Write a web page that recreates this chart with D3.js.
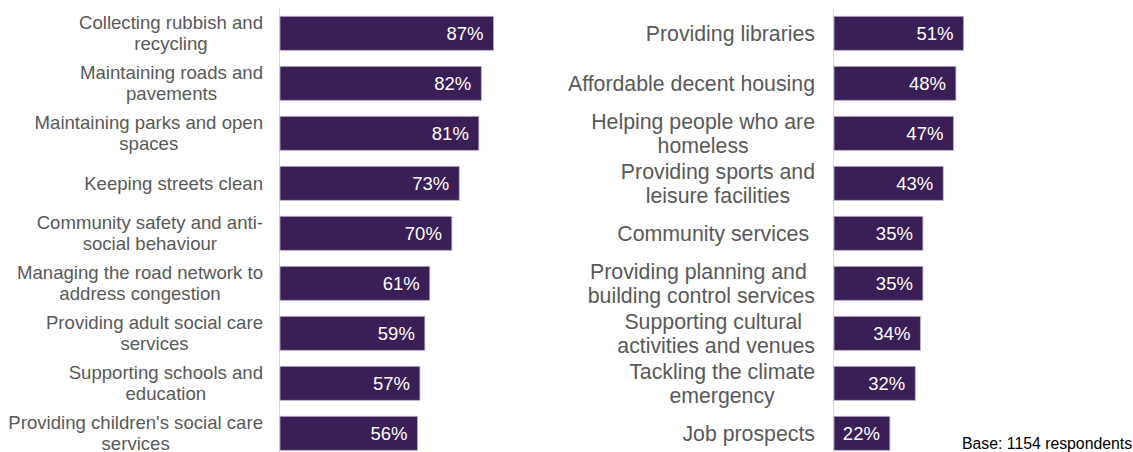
<!DOCTYPE html>
<html>
<head>
<meta charset="utf-8">
<script src="https://cdn.jsdelivr.net/npm/d3@7"></script>
<style>
  html, body { margin: 0; padding: 0; background: #fff; }
  svg { display: block; font-family: "Liberation Sans", Arial, sans-serif; }
  text { white-space: pre; }
</style>
</head>
<body>
<svg id="chart" width="1133" height="452"></svg>
<script>
// ---- data ----
const leftCategories = [
  "Collecting rubbish and|recycling",
  "Maintaining roads and|pavements",
  "Maintaining parks and open|spaces",
  "Keeping streets clean",
  "Community safety and anti-|social behaviour",
  "Managing the road network to|address congestion",
  "Providing adult social care|services",
  "Supporting schools and|education",
  "Providing children's social care|services"
];
const leftValues = [87, 82, 81, 73, 70, 61, 59, 57, 56];

const rightCategories = [
  "Providing libraries",
  "Affordable decent housing",
  "Helping people who are|homeless",
  "Providing sports and|leisure facilities",
  "Community services ",
  "Providing planning and |building control services",
  "Supporting cultural |activities and venues",
  "Tackling the climate|emergency",
  "Job prospects"
];
const rightValues = [51, 48, 47, 43, 35, 35, 34, 32, 22];

const baseNote = "Base: 1154 respondents";

// ---- drawing ----
const svg = d3.select("#chart");
const barFill = "#3a1e56";
const barStroke = "#bcaecb";
const labelColor = "#595959";

function panel(cfg) {
  const g = svg.append("g");
  const y = d3.scaleBand()
    .domain(cfg.categories.map((d, i) => i))
    .range([8.3, 458.3])
    .paddingInner(0.32)
    .paddingOuter(0.16);
  const x = d3.scaleLinear().domain([0, 100]).range([cfg.x0, cfg.x0 + cfg.width100]);

  // axis line
  g.append("line")
    .attr("x1", cfg.x0 - 0.5).attr("x2", cfg.x0 - 0.5)
    .attr("y1", y.range()[0]).attr("y2", y.range()[1])
    .attr("stroke", "#d9d9d9").attr("stroke-width", 1);

  const rows = cfg.categories.map((c, i) => ({ lines: c.split("|"), v: cfg.values[i], i }));

  // bars
  g.selectAll("rect.bar").data(rows).join("rect")
    .attr("class", "bar")
    .attr("x", x(0))
    .attr("y", d => y(d.i))
    .attr("width", d => x(d.v) - x(0))
    .attr("height", y.bandwidth())
    .attr("fill", barFill)
    .attr("stroke", barStroke)
    .attr("stroke-width", 0.8);

  // value labels
  g.selectAll("text.val").data(rows).join("text")
    .attr("class", "val")
    .attr("x", d => x(d.v) - 10)
    .attr("y", d => y(d.i) + y.bandwidth() / 2)
    .attr("dy", "0.36em")
    .attr("text-anchor", "end")
    .attr("fill", "#ffffff")
    .style("font-size", "18.5px")
    .text(d => d.v + "%");

  // category labels: block right-aligned, lines centred within block
  rows.forEach(r => {
    const n = r.lines.length;
    const cy = y(r.i) + y.bandwidth() / 2;
    const texts = r.lines.map((line, k) =>
      g.append("text")
        .attr("xml:space", "preserve")
        .attr("y", cy + (k - (n - 1) / 2) * cfg.lineHeight)
        .attr("dy", "0.35em")
        .attr("text-anchor", "middle")
        .attr("fill", labelColor)
        .style("font-size", cfg.fontSize + "px")
        .text(line)
    );
    const maxW = d3.max(texts, t => t.node().getComputedTextLength());
    texts.forEach(t => t.attr("x", cfg.labelRight - maxW / 2));
  });
}

panel({ categories: leftCategories, values: leftValues, x0: 280, width100: 245.5,
        labelRight: 263, fontSize: 18.6, lineHeight: 21 });
panel({ categories: rightCategories, values: rightValues, x0: 834, width100: 254,
        labelRight: 815, fontSize: 21.3, lineHeight: 24 });

svg.append("text")
  .attr("x", 962)
  .attr("y", 449)
  .attr("fill", "#000")
  .style("font-size", "15.8px")
  .text(baseNote);
</script>
</body>
</html>
